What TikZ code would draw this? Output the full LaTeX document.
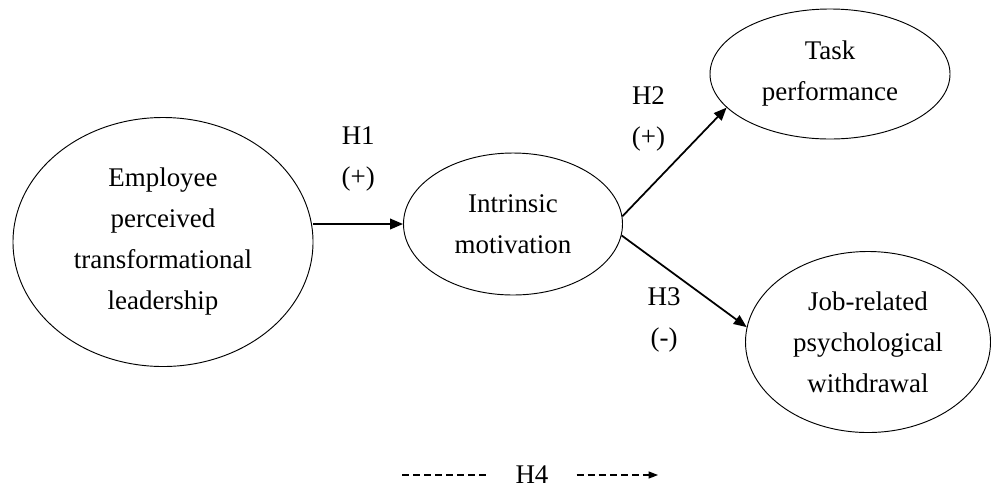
\documentclass[tikz,border=0pt]{standalone}
\usepackage{fontspec}
\setmainfont{Liberation Serif}
\usetikzlibrary{shapes.geometric, arrows.meta, positioning}

\begin{document}
\begin{tikzpicture}[
    x=0.03cm, y=-0.03cm,
    every node/.style={font=\fontsize{23}{35}\selectfont, align=center},
    construct/.style={ellipse, draw, line width=0.8pt, inner sep=1pt},
    arrow/.style={-{Triangle[length=11pt,width=9pt]}, line width=1.5pt},
    dashline/.style={dash pattern=on 6pt off 3.4pt, line width=0.9pt}
]
\useasboundingbox (0,0) rectangle (991,490);

\node[construct, minimum width=9cm, minimum height=7.47cm] (tfl) at (163,242) {Employee\\perceived\\transformational\\leadership};
\node[construct, minimum width=6.57cm, minimum height=4.26cm] (im) at (513,224) {Intrinsic\\motivation};
\node[construct, minimum width=7.2cm, minimum height=3.9cm] (tp) at (830,74) {Task\\performance};
\node[construct, minimum width=7.35cm, minimum height=5.43cm] (jpw) at (868,342) {Job-related\\psychological\\withdrawal};

\draw[arrow] (tfl.east |- im.west) -- node[yshift=1.95cm] (h1) {H1\\(+)} (im.west);
\draw[arrow] (im.4) -- node[xshift=-0.78cm, yshift=1.29cm] (h2) {H2\\(+)} (tp.198);
\draw[arrow] (im.-6) -- node[xshift=-0.6cm, yshift=-1.17cm] (h3) {H3\\(-)} (jpw.173);

\node[inner xsep=0.84cm] (h4) at (532,475) {H4};
\coordinate (h4from) at (402,475);
\coordinate (h4to) at (658,475);
\draw[dashline] (h4from) -- (h4.west);
\draw[dashline, -{Triangle[length=8pt,width=6pt]}] (h4.east) -- (h4to);
\end{tikzpicture}
\end{document}
